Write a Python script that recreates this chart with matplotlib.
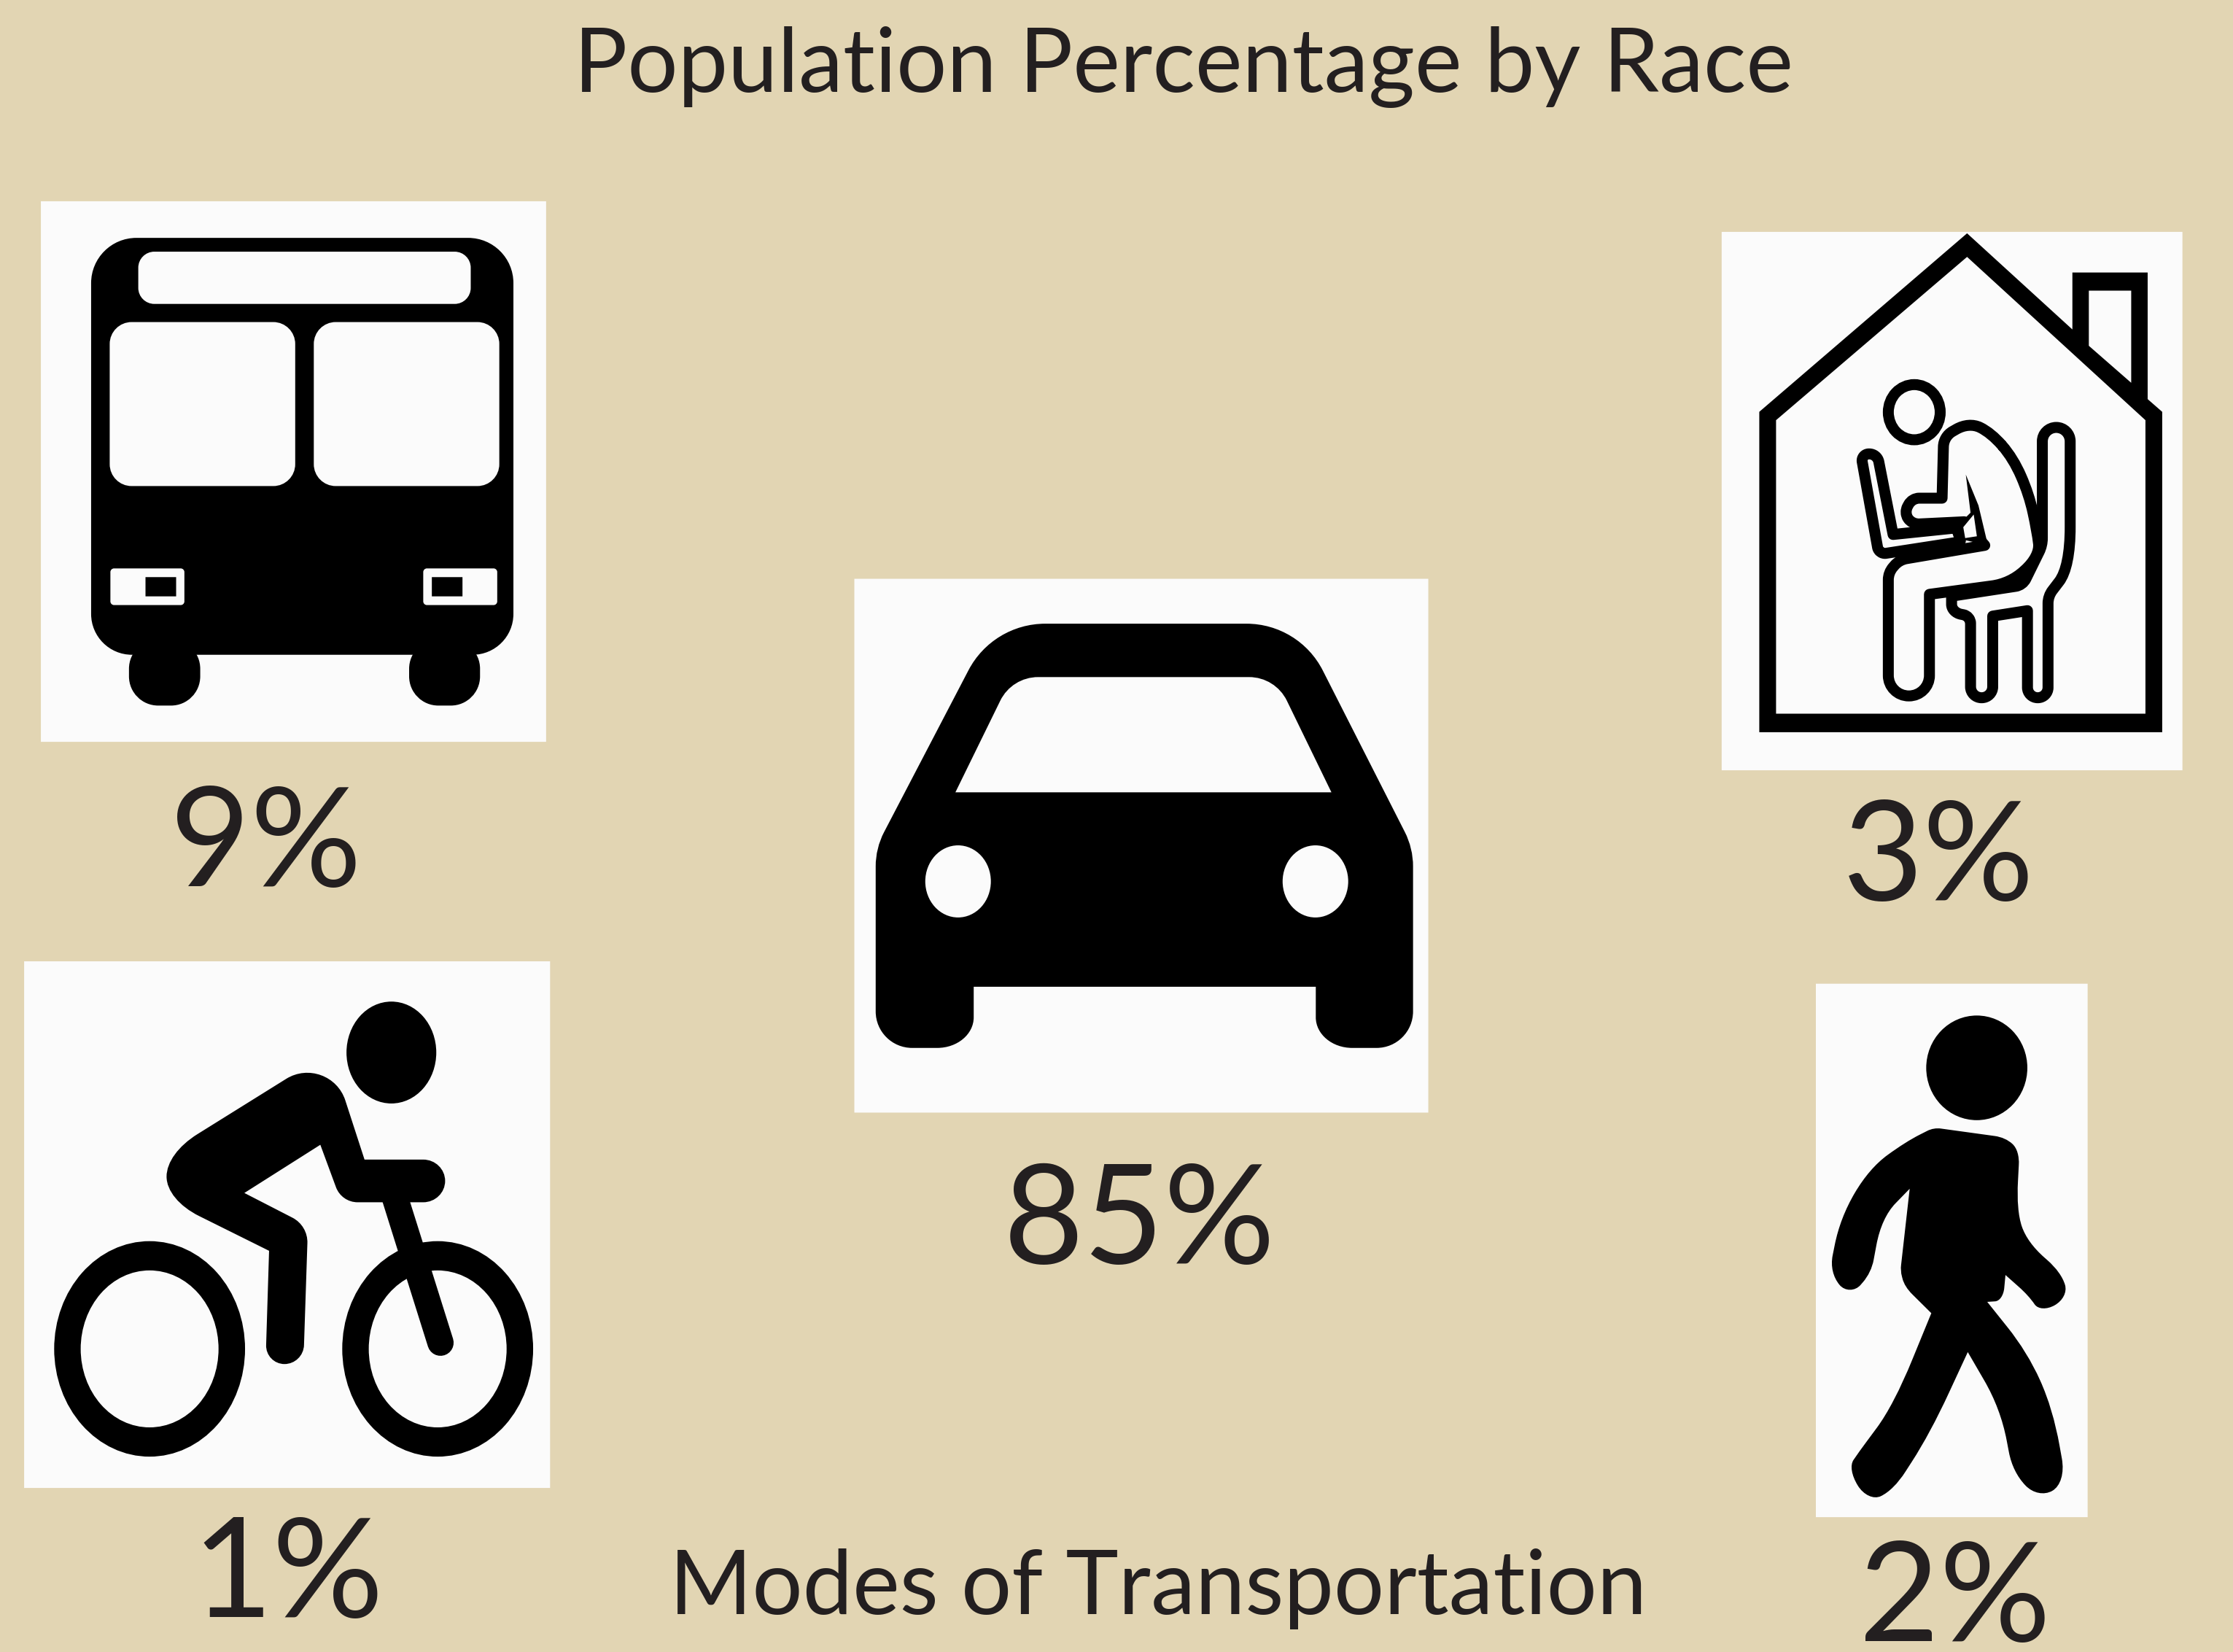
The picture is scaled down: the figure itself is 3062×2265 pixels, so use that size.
"""Modes of transportation pictogram chart."""

import matplotlib

matplotlib.use("Agg")
import matplotlib.pyplot as plt
import numpy as np
from matplotlib.patches import Ellipse, PathPatch
from matplotlib.path import Path

W, H = 3062, 2265
BG = "#E2D5B3"
PANEL = "#FBFBFB"
INK = "#231F20"

title = "Population Percentage by Race"
caption = "Modes of Transportation"
modes = ["bus", "home", "car", "bike", "walk"]
percents = [9, 3, 85, 1, 2]

plt.rcParams["font.family"] = ["Lato", "DejaVu Sans"]

fig = plt.figure(figsize=(W / 100, H / 100), dpi=100, facecolor=BG)
ax = fig.add_axes([0, 0, 1, 1])
ax.set_xlim(0, W)
ax.set_ylim(H, 0)
ax.axis("off")


def mapper(x0, y0, w, h, zw=1568, zh=1568):
    # crop coordinates -> full picture pixels
    return lambda x, y: (x0 + x * w / zw, y0 + y * h / zh)


def rounded(pts, radii):
    pts = np.array(pts, dtype=float)
    n = len(pts)
    verts, codes = [], []
    for i in range(n):
        p, a, b = pts[i], pts[i - 1], pts[(i + 1) % n]
        d1, d2 = np.linalg.norm(a - p), np.linalg.norm(b - p)
        p1 = p + (a - p) / d1 * min(radii[i], d1 / 2)
        p2 = p + (b - p) / d2 * min(radii[i], d2 / 2)
        # circular-arc handle length for this turning angle
        turn = np.arccos(np.clip(np.dot(p - a, b - p) / (d1 * d2), -1, 1))
        k = 4 / 3 * np.tan(turn / 4) / np.tan(turn / 2) if 0.01 < turn < 3.1 else 0.6
        verts += [p1, p1 + (p - p1) * k, p2 + (p - p2) * k, p2]
        codes += [Path.MOVETO if i == 0 else Path.LINETO, Path.CURVE4, Path.CURVE4, Path.CURVE4]
    verts.append(verts[0])
    codes.append(Path.CLOSEPOLY)
    return Path(verts, codes)


def shape(m, pts, color="black", stroke=0, zorder=3):
    # pts are (x, y, corner radius in px)
    xy = [m(p[0], p[1]) for p in pts]
    radii = [p[2] if len(p) > 2 else 0 for p in pts]
    ax.add_patch(PathPatch(rounded(xy, radii), fc=color, ec="black" if stroke else "none",
                           lw=stroke * 0.72, zorder=zorder, joinstyle="round"))


def box(m, x0, y0, x1, y1, r=0, color="black", zorder=3):
    shape(m, [(x0, y0, r), (x1, y0, r), (x1, y1, r), (x0, y1, r)], color, zorder=zorder)


def oval(m, cx, cy, rx, ry, color="black", stroke=0, zorder=3):
    sx, sy = m(1, 1)
    ox, oy = m(0, 0)
    ax.add_patch(Ellipse(m(cx, cy), 2 * rx * (sx - ox), 2 * ry * (sy - oy), fc=color,
                         ec="black" if stroke else "none", lw=stroke * 0.72, zorder=zorder))


def draw_bus():
    m = mapper(40, 260, 740, 780)
    box(m, 34, 32, 1502, 1522, color=PANEL, zorder=2)
    shape(m, [(180, 133, 62), (1407, 133, 62), (1407, 1282, 56), (180, 1282, 56)])
    box(m, 290, 1240, 497, 1422, 40)
    box(m, 1104, 1240, 1310, 1422, 40)
    box(m, 317, 171, 1283, 315, 22, PANEL)
    box(m, 234, 365, 773, 817, 30, PANEL)
    box(m, 827, 365, 1366, 817, 30, PANEL)
    box(m, 236, 1044, 451, 1145, 5, PANEL)
    box(m, 1145, 1044, 1360, 1145, 5, PANEL)
    box(m, 338, 1068, 427, 1121)
    box(m, 1170, 1068, 1259, 1121)


def draw_car():
    m = mapper(1160, 780, 820, 760)
    box(m, 22, 28, 1527, 1538, color=PANEL, zorder=2)
    shape(m, [(78, 1355, 50), (78, 790, 25), (385, 155, 72), (1188, 155, 72), (1487, 790, 25),
              (1487, 1355, 50), (1232, 1355, 50), (1232, 1182), (335, 1182), (335, 1355, 50)])
    shape(m, [(287, 632), (435, 306, 36), (1126, 306, 36), (1273, 632)], PANEL)
    oval(m, 294, 884, 86, 102, PANEL)
    oval(m, 1231, 884, 86, 102, PANEL)


def draw_home():
    m = mapper(2340, 300, 680, 780)
    box(m, 48, 36, 1505, 1520, color=PANEL, zorder=2)
    shape(m, [(167, 1415), (167, 532), (824, 40), (1157, 305), (1157, 148), (1395, 148),
              (1395, 497), (1441, 532), (1441, 1415)])
    shape(m, [(220, 1364), (220, 555), (824, 105), (1388, 555), (1388, 1364)], PANEL)
    shape(m, [(1209, 198), (1343, 198), (1343, 452), (1209, 350)], PANEL)

    lw = 15
    oval(m, 657, 533, 82, 76, PANEL, lw, 4)
    # chair
    shape(m, [(1062, 575, 19), (1150, 575, 19), (1150, 960, 55), (1080, 1040, 10), (1080, 1320, 14),
              (1015, 1320, 14), (1015, 1080), (905, 1095), (905, 1320, 15), (835, 1320, 15),
              (835, 1095, 10), (775, 1085, 16), (775, 1040), (1000, 1010, 10), (1062, 900, 10)],
          PANEL, lw, 4)
    # seated figure
    shape(m, [(575, 1315, 28), (705, 1315, 28), (705, 1035), (960, 1005, 25), (1055, 930, 35),
              (1045, 860, 30), (1020, 760, 30), (970, 660, 30), (900, 590, 30), (830, 560, 25),
              (750, 600, 14), (745, 770), (650, 770, 10), (625, 810, 10), (650, 842, 10),
              (815, 835), (880, 900), (610, 940, 10), (575, 975, 10)], PANEL, lw, 5)
    shape(m, [(820, 705), (860, 790), (890, 900), (815, 885), (800, 840), (835, 810)], zorder=6)
    shape(m, [(845, 815), (855, 875), (818, 880), (812, 850)], PANEL, zorder=7)
    # laptop
    shape(m, [(488, 648, 11), (540, 648, 11), (590, 870), (790, 852, 3), (805, 890, 3), (545, 925, 10)],
          PANEL, lw, 6)


def draw_bike():
    m = mapper(20, 1310, 760, 740)
    box(m, 27, 17, 1515, 1547, color=PANEL, zorder=2)
    oval(m, 1066, 282, 127, 148)
    for cx in (382, 1197):
        oval(m, cx, 1143, 270, 313)
        oval(m, cx, 1143, 195, 228, PANEL)
    shape(m, [(891, 280, 70), (990, 593), (1218, 593, 30), (1218, 717, 30), (925, 717, 22), (865, 550),
              (650, 690), (830, 785, 24), (817, 1187, 26), (710, 1187, 26), (720, 858), (430, 710, 50),
              (430, 575, 50)])
    fx, fy = zip(m(1075, 700), m(1205, 1125))
    ax.plot(fx, fy, color="black", lw=36 * 0.72, solid_capstyle="round", zorder=3)


def draw_walk():
    m = mapper(2480, 1340, 400, 760, zw=1200)
    box(m, 30, 18, 1148, 1527, color=PANEL, zorder=2)
    oval(m, 692, 256, 208, 148)
    shape(m, [(515, 425, 10), (810, 453, 15), (868, 490, 20), (855, 660, 45), (900, 750, 50), (1040, 835, 26),
              (1070, 905, 26), (955, 950, 30), (905, 900, 18), (810, 842), (800, 915, 22), (735, 918),
              (900, 1060, 60), (1005, 1220, 80), (1060, 1430, 34), (945, 1475, 38), (840, 1400, 28),
              (790, 1220, 60), (655, 1060), (500, 1290, 80), (350, 1450, 30), (245, 1485, 36), (160, 1390, 32),
              (210, 1340, 15), (350, 1210, 70), (505, 950), (395, 875, 15), (378, 830, 8), (416, 598),
              (300, 680, 40), (258, 835, 18), (170, 905, 30), (85, 835, 24), (130, 680, 60), (250, 540, 60),
              (400, 465, 35)])


draw_bus()
draw_car()
draw_home()
draw_bike()
draw_walk()

label_x = {"bus": 364, "home": 2658, "car": 1562, "bike": 395, "walk": 2680}
label_y = {"bus": 1215, "home": 1234, "car": 1732, "bike": 2217, "walk": 2250}

for mode, pct in zip(modes, percents):
    ax.text(label_x[mode], label_y[mode], f"{pct}%", fontsize=137, color=INK,
            ha="center", va="baseline", zorder=8)

ax.text(1623, 126, title, fontsize=88, color=INK, ha="center", va="baseline")
ax.text(1588, 2213, caption, fontsize=88, color=INK, ha="center", va="baseline")

fig.savefig("out.png", dpi=100, facecolor=BG)
